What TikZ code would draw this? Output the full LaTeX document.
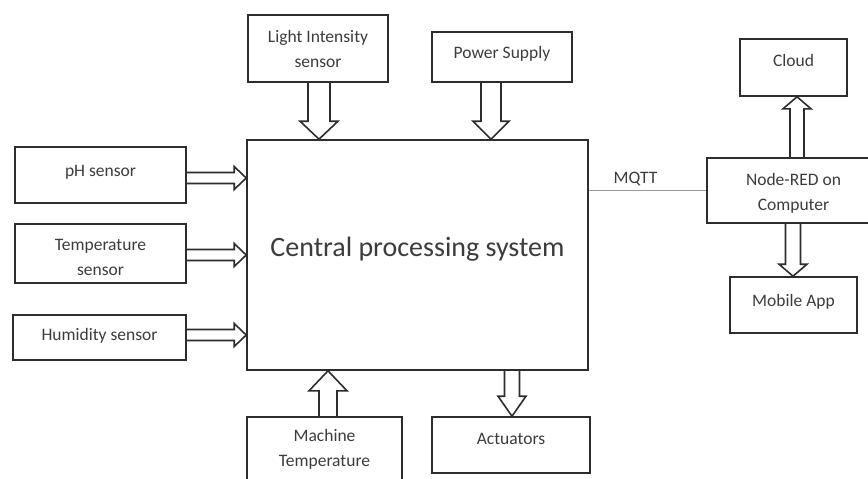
\documentclass[tikz,border=0pt]{standalone}
\usepackage{fontspec}
\setmainfont{Carlito}
\usetikzlibrary{calc}
\definecolor{ln}{RGB}{45,45,45}
\definecolor{tx}{RGB}{60,60,60}
\tikzset{
  box/.style={draw=ln, line width=1.6pt, inner sep=0pt, align=center, text=tx,
    font=\fontsize{17.5}{25}\selectfont},
  up/.style={text height=12.5pt, text depth=#1},
  down/.style={text height=#1},
  barrow/.style={draw=ln, line width=1.6pt, line join=miter},
  mqttline/.style={draw=gray!80, line width=1.4pt}
}
\newcommand{\blockarr}[5]{%
  \path (#2) coordinate (baE) ($(#2)!#5!(#1)$) coordinate (baB);
  \draw[barrow] ($(#1)!#3!90:(#2)$) -- ($(baB)!#3!90:(baE)$) -- ($(baB)!#4!90:(baE)$) -- (baE)
    -- ($(baB)!#4!-90:(baE)$) -- ($(baB)!#3!-90:(baE)$) -- ($(#1)!#3!-90:(#2)$);}
\begin{document}
\begin{tikzpicture}[x=1pt,y=-1pt]
\clip (0,0) rectangle (868,479);
\fill[white] (0,0) rectangle (868,479);
% boxes
\node[box, up=10pt, minimum width=171pt, minimum height=56pt] (ph) at (100.5,175) {pH sensor};
\node[box, down=43.5pt, minimum width=171pt, minimum height=59pt] (temp) at (100.5,253.5) {Temperature\\sensor};
\node[box, up=6pt, minimum width=173pt, minimum height=45pt] (hum) at (99.5,337.5) {Humidity sensor};
\node[box, text height=20pt, text depth=16.5pt, minimum width=341pt, minimum height=230pt, font=\fontsize{28}{32}\selectfont] (cps) at (417.5,255) {Central processing system};
\node[box, minimum width=140pt, minimum height=67pt] (lis) at (318,48.5) {Light Intensity\\sensor};
\node[box, up=10pt, minimum width=140pt, minimum height=50pt] (ps) at (502,57) {Power Supply};
\node[box, minimum width=155pt, minimum height=65pt] (mt) at (324.5,449.5) {Machine\\Temperature};
\node[box, up=14pt, minimum width=158pt, minimum height=56pt] (act) at (511,445) {Actuators};
\node[box, up=14pt, minimum width=107pt, minimum height=57pt] (cloud) at (793.5,67.5) {Cloud};
\node[box, down=43.5pt, minimum width=173pt, minimum height=65pt] (nr) at (793.5,190.5) {Node-RED on\\Computer};
\node[box, up=10pt, minimum width=127pt, minimum height=56pt] (app) at (793.5,305) {Mobile App};
% arrow end points
\coordinate (a1) at ($(ph.east)+(0,3)$);
\coordinate (b1) at (a1 -| cps.west);
\coordinate (a2) at ($(temp.east)+(0,1.5)$);
\coordinate (b2) at (a2 -| cps.west);
\coordinate (a3) at ($(hum.east)+(0,-2.5)$);
\coordinate (b3) at (a3 -| cps.west);
\coordinate (a4) at ($(lis.south)+(1,0)$);
\coordinate (b4) at (a4 |- cps.north);
\coordinate (a5) at ($(ps.south)+(-11,0)$);
\coordinate (b5) at (a5 |- cps.north);
\coordinate (a6) at ($(mt.north)+(3.5,0)$);
\coordinate (b6) at (a6 |- cps.south);
\coordinate (a7) at ($(cps.south)+(94.5,0)$);
\coordinate (b7) at (a7 |- act.north);
\coordinate (a8) at ($(nr.north)+(3.5,0)$);
\coordinate (b8) at (a8 |- cloud.south);
\coordinate (a9) at ($(nr.south)+(-0.5,0)$);
\coordinate (b9) at (a9 |- app.north);
% block arrows
\blockarr{a1}{b1}{5.5pt}{11.5pt}{12pt}
\blockarr{a2}{b2}{5.5pt}{11.5pt}{12pt}
\blockarr{a3}{b3}{5.5pt}{11.5pt}{12pt}
\blockarr{a4}{b4}{11pt}{19pt}{18pt}
\blockarr{a5}{b5}{10pt}{18pt}{18pt}
\blockarr{a6}{b6}{9pt}{19pt}{20pt}
\blockarr{a7}{b7}{7.5pt}{14pt}{20pt}
\blockarr{a8}{b8}{7pt}{14pt}{12pt}
\blockarr{a9}{b9}{7.5pt}{14pt}{12pt}
% MQTT link
\draw[mqttline] (cps.east |- nr.west) -- node[above=1pt, text=tx, font=\fontsize{17.5}{20}\selectfont, xshift=-12pt] {MQTT} (nr.west);
\end{tikzpicture}
\end{document}
